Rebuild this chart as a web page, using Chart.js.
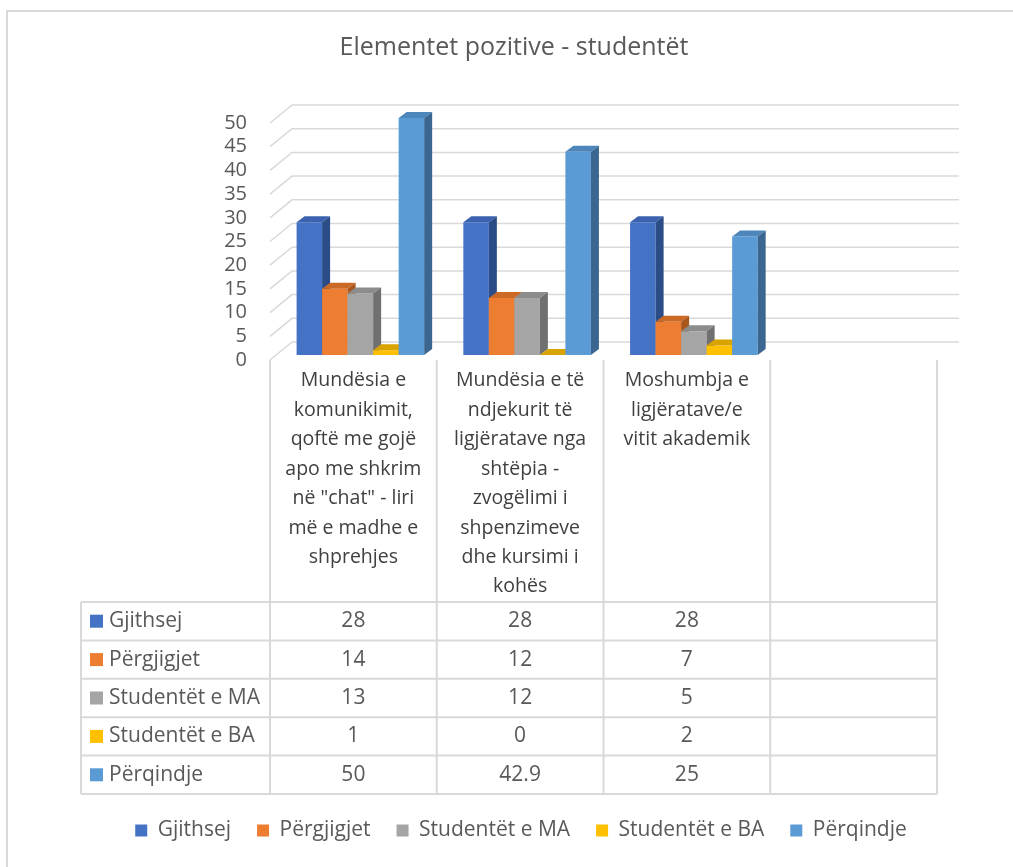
<!DOCTYPE html>
<html lang="sq">
<head>
  <meta charset="UTF-8" />
  <title>Elementet pozitive - studentët</title>
  <script src="https://cdn.jsdelivr.net/npm/chart.js"></script>
  <style>
    html, body {
      margin: 0;
      padding: 0;
      background: #fff;
      overflow: hidden;
    }
    #frame {
      position: absolute;
      left: 6px;
      top: 10px;
      width: 1100px;
      height: 1000px;
      border: 2px solid #d9d9d9;
    }
    #chart {
      position: absolute;
      left: 0;
      top: 0;
    }
  </style>
</head>
<body>
  <div id="frame"></div>
  <canvas id="chart" width="1013" height="867"></canvas>

  <script>
    // categories (the 4th column is empty in the original)
    const categories = [
      ['Mundësia e', 'komunikimit,', 'qoftë me gojë', 'apo me shkrim', 'në "chat" - liri', 'më e madhe e', 'shprehjes'],
      ['Mundësia e të', 'ndjekurit të', 'ligjëratave nga', 'shtëpia -', 'zvogëlimi i', 'shpenzimeve', 'dhe kursimi i', 'kohës'],
      ['Moshumbja e', 'ligjëratave/e', 'vitit akademik'],
      ''
    ];

    const seriesNames = ['Gjithsej', 'Përgjigjet', 'Studentët e MA', 'Studentët e BA', 'Përqindje'];
    const gjithsej     = [28, 28, 28, null];
    const pergjigjet   = [14, 12, 7, null];
    const studentetMA  = [13, 12, 5, null];
    const studentetBA  = [1, 0, 2, null];
    const perqindje    = [50, 42.9, 25, null];
    const seriesValues = [gjithsej, pergjigjet, studentetMA, studentetBA, perqindje];

    const yMin = 0, yMax = 50, yStep = 5;

    const frontColors = ['#4472C4', '#ED7D31', '#A5A5A5', '#FFC000', '#5B9BD5'];
    const topColors   = ['#3A62AE', '#CC6A25', '#8C8C8C', '#D9A300', '#4C86BA'];
    const sideColors  = ['#2C4C87', '#A9571C', '#707070', '#B38700', '#3A6690'];

    const FONT = '"Open Sans", Lato, sans-serif';
    const TEXT = '#595959';

    const depth = { dx: 8, dy: 6 };    // depth of each bar
    const wall = { dx: 22, dy: 18 };   // offset of back wall from front plane
    const shift = { dx: 7, dy: -5 };   // bars stand between front and back

    function poly(ctx, pts) {
      ctx.beginPath();
      ctx.moveTo(pts[0][0], pts[0][1]);
      for (let i = 1; i < pts.length; i++) ctx.lineTo(pts[i][0], pts[i][1]);
      ctx.closePath();
      ctx.fill();
    }

    // back wall grid + 3d bars, drawn dataset by dataset from left to right
    const threeD = {
      id: 'threeD',
      afterLayout(chart) {
        // the original box is a few px wider on the right
        chart.titleBlock.left += 5;
        chart.titleBlock.right += 5;
        chart.legend.left += 12;
        chart.legend.right += 12;
      },
      beforeDatasetsDraw(chart) {
        const { ctx, chartArea: a } = chart;
        const y = chart.scales.y;
        ctx.save();
        ctx.strokeStyle = '#d9d9d9';
        ctx.lineWidth = 1.5;
        y.ticks.forEach(t => {
          const py = y.getPixelForValue(t.value);
          ctx.beginPath();
          ctx.moveTo(a.left, py);
          ctx.lineTo(a.left + wall.dx, py - wall.dy);
          ctx.lineTo(a.right + wall.dx, py - wall.dy);
          ctx.stroke();
        });

        ctx.translate(shift.dx, shift.dy);
        chart.data.datasets.forEach((ds, i) => {
          const meta = chart.getDatasetMeta(i);
          meta.data.forEach((bar, j) => {
            if (ds.data[j] == null) return;
            const { x, y: top, base, width } = bar.getProps(['x', 'y', 'base', 'width'], true);
            const l = x - width / 2, r = x + width / 2;
            bar.draw(ctx);
            ctx.fillStyle = topColors[i];
            poly(ctx, [[l, top], [l + depth.dx, top - depth.dy], [r + depth.dx, top - depth.dy], [r, top]]);
            ctx.fillStyle = sideColors[i];
            poly(ctx, [[r, top], [r + depth.dx, top - depth.dy], [r + depth.dx, base - depth.dy], [r, base]]);
          });
        });
        ctx.restore();
        return false;
      }
    };

    // data table under the category labels
    const dataTable = {
      id: 'dataTable',
      afterDraw(chart) {
        const { ctx, chartArea: a } = chart;
        const xs = chart.scales.x, ys = chart.scales.y;
        const n = categories.length;
        const colW = (a.right - a.left) / n;
        const rows = seriesNames.length;
        const bottom = xs.bottom;
        const rowH = 38.4;
        const top = bottom - rows * rowH;
        const left = ys.left;

        ctx.save();
        ctx.strokeStyle = '#d9d9d9';
        ctx.lineWidth = 2;
        ctx.beginPath();
        for (let i = 0; i <= rows; i++) {
          const yy = top + i * rowH;
          ctx.moveTo(left, yy);
          ctx.lineTo(a.right, yy);
        }
        ctx.moveTo(left, top);
        ctx.lineTo(left, bottom);
        for (let c = 0; c <= n; c++) {
          const xx = a.left + c * colW;
          ctx.moveTo(xx, a.bottom);
          ctx.lineTo(xx, bottom);
        }
        ctx.stroke();

        ctx.font = '21px ' + FONT;
        ctx.textBaseline = 'middle';
        for (let i = 0; i < rows; i++) {
          const cy = top + i * rowH + rowH / 2;
          ctx.fillStyle = frontColors[i];
          ctx.fillRect(left + 9, cy - 6.5, 13, 13);
          ctx.fillStyle = TEXT;
          ctx.textAlign = 'left';
          ctx.fillText(seriesNames[i], left + 28, cy);
          ctx.textAlign = 'center';
          seriesValues[i].forEach((v, c) => {
            if (v == null) return;
            ctx.fillText(String(v), a.left + c * colW + colW / 2, cy);
          });
        }
        ctx.restore();
      }
    };

    const datasets = seriesNames.map((name, i) => ({
      label: name,
      data: seriesValues[i],
      backgroundColor: frontColors[i],
      borderWidth: 0,
      categoryPercentage: 0.765,
      barPercentage: 1
    }));

    new Chart(document.getElementById('chart'), {
      type: 'bar',
      data: { labels: categories, datasets },
      options: {
        responsive: false,
        animation: false,
        layout: { padding: { left: 81, right: 76, top: 0, bottom: 16 } },
        plugins: {
          title: {
            display: true,
            text: 'Elementet pozitive - studentët',
            color: TEXT,
            font: { family: FONT, size: 25, weight: 'normal' },
            padding: { top: 33, bottom: 60 }
          },
          legend: {
            position: 'bottom',
            labels: {
              color: TEXT,
              font: { family: FONT, size: 21 },
              boxWidth: 12,
              boxHeight: 12,
              padding: 26
            }
          },
          tooltip: { enabled: false }
        },
        scales: {
          x: {
            grid: { display: false, drawTicks: false },
            border: { display: false },
            ticks: {
              autoSkip: false,
              maxRotation: 0,
              minRotation: 0,
              padding: 6,
              color: '#404040',
              font: { family: FONT, size: 19.5, lineHeight: 1.51 }
            },
            afterFit(scale) { scale.height = 434; }
          },
          y: {
            min: yMin,
            max: yMax,
            grid: { display: false, drawTicks: false },
            border: { display: false },
            ticks: {
              stepSize: yStep,
              autoSkip: false,
              padding: 23,
              color: TEXT,
              font: { family: FONT, size: 20 }
            },
            afterFit(scale) { scale.width = 189; }
          }
        }
      },
      plugins: [threeD, dataTable]
    });
  </script>
</body>
</html>
